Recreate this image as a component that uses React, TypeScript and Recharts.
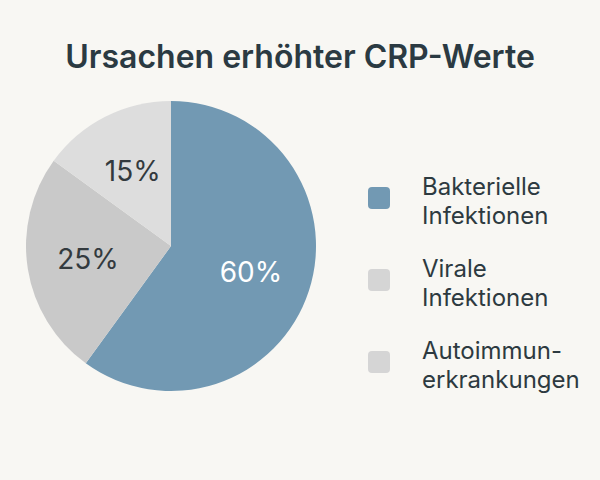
import React from "react"
import { PieChart, Pie, Cell, Legend } from "recharts"

const categories = ["Bakterielle Infektionen", "Virale Infektionen", "Autoimmun-erkrankungen"]
const shares = [60, 25, 15]
const sliceColors = ["#7299b3", "#c9c9c9", "#dddddd"]
const legendColors = ["#7299b3", "#d5d5d5", "#d5d5d5"]

const data = categories.map((name, i) => ({ name, value: shares[i] }))

const RAD = Math.PI / 180

const renderLabel = (props: any) => {
    const { cx, cy, midAngle, outerRadius, value, index } = props
    const r = outerRadius * 0.58
    const x = cx + r * Math.cos(-midAngle * RAD)
    const y = cy + r * Math.sin(-midAngle * RAD)
    return (
        <text
            x={x}
            y={y}
            fill={index === 0 ? "#ffffff" : "#333a3e"}
            textAnchor="middle"
            dominantBaseline="central"
            fontSize={28}
            fontFamily="Inter, 'Noto Sans', sans-serif"
        >
            {value}%
        </text>
    )
}

const renderLegend = () => (
    <div style={{ display: "flex", flexDirection: "column", gap: 24 }}>
        {categories.map((name, i) => (
            <div key={name} style={{ display: "flex", alignItems: "center" }}>
                <div
                    style={{
                        width: 22,
                        height: 22,
                        borderRadius: 4,
                        background: legendColors[i],
                        marginRight: 32,
                        marginTop: -6,
                        flexShrink: 0,
                    }}
                />
                <div
                    style={{
                        width: 180,
                        fontSize: 24,
                        lineHeight: "29px",
                        color: "#2d3a40",
                        fontFamily: "Inter, 'Noto Sans', sans-serif",
                    }}
                >
                    {name}
                </div>
            </div>
        ))}
    </div>
)

export default function App() {
    return (
        <div
            style={{
                position: "absolute",
                top: 0,
                left: 0,
                width: 600,
                height: 480,
                background: "#f8f7f3",
                fontFamily: "Inter, 'Noto Sans', sans-serif",
            }}
        >
            <div
                style={{
                    position: "absolute",
                    top: 37,
                    width: 600,
                    textAlign: "center",
                    fontSize: 32,
                    fontWeight: 600,
                    color: "#2b3a42",
                }}
            >
                Ursachen erhöhter CRP-Werte
            </div>
            <PieChart width={600} height={480} margin={{ top: 0, right: 0, bottom: 0, left: 0 }}>
                <Pie
                    data={data}
                    dataKey="value"
                    nameKey="name"
                    cx={171}
                    cy={246}
                    outerRadius={145}
                    startAngle={90}
                    endAngle={-270}
                    stroke="none"
                    label={renderLabel}
                    labelLine={false}
                    isAnimationActive={false}
                >
                    {data.map((d, i) => (
                        <Cell key={d.name} fill={sliceColors[i]} />
                    ))}
                </Pie>
                <Legend
                    layout="vertical"
                    align="right"
                    verticalAlign="top"
                    content={renderLegend}
                    wrapperStyle={{ left: 368, top: 172, width: 230 }}
                />
            </PieChart>
        </div>
    )
}
